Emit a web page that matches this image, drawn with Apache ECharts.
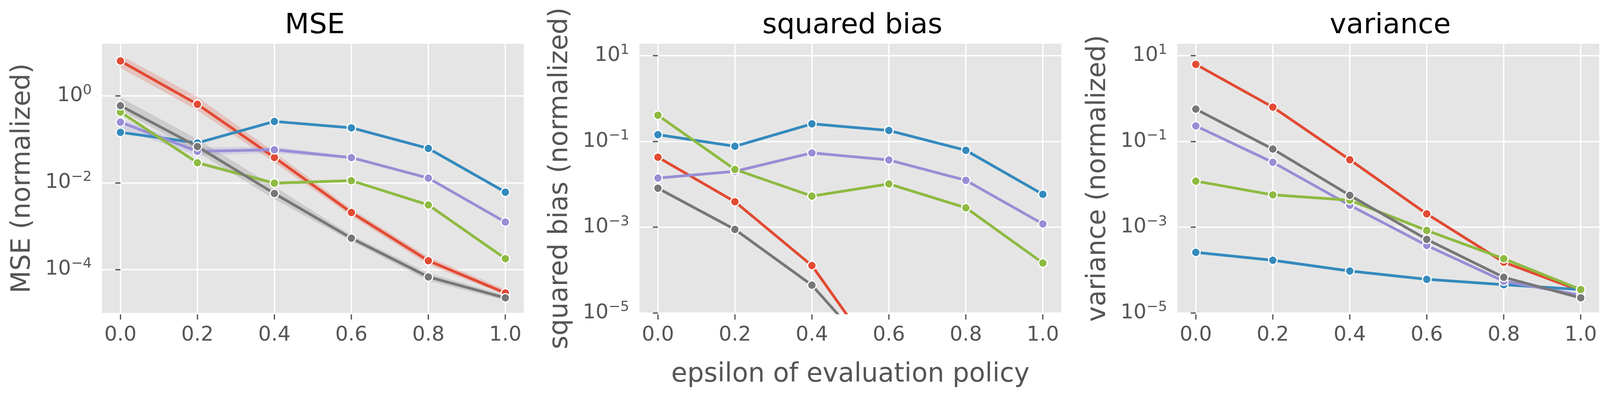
<!DOCTYPE html>
<html>
<head>
<meta charset="utf-8">
<script src="https://cdn.jsdelivr.net/npm/echarts@6/dist/echarts.min.js"></script>
<style>
  html, body { margin: 0; padding: 0; background: #fff; }
  #chart { width: 4125px; height: 1024px; }
</style>
</head>
<body>
<div id="chart"></div>
<script>
const EPSILON = [0, 0.2, 0.4, 0.6, 0.8, 1.0];
const X_TICKS = [0, 0.2, 0.4, 0.6, 0.8, 1.0];
const MSE_TICKS = [1e-4, 1e-2, 1];
const BV_TICKS = [1e-5, 1e-3, 1e-1, 10];
const PANEL_TITLES = ['MSE', 'squared bias', 'variance'];
const Y_NAMES = ['MSE (normalized)', 'squared bias (normalized)', 'variance (normalized)'];
const X_NAME = 'epsilon of evaluation policy';

// draw order: red, blue, purple, green, gray (gray on top)
const METHODS = ['red', 'blue', 'purple', 'green', 'gray'];
const COLORS = { red: '#E24A33', blue: '#348ABD', purple: '#988ED5', green: '#8EBA42', gray: '#777777' };

// MSE panel
const mseRed    = [6.41, 0.644, 0.0383, 0.00206, 1.59e-4, 2.88e-5];
const mseBlue   = [0.1455, 0.0828, 0.259, 0.1845, 0.0618, 0.00607];
const msePurple = [0.249, 0.0529, 0.0578, 0.038, 0.0128, 0.00124];
const mseGreen  = [0.426, 0.0289, 0.0098, 0.01117, 0.00308, 1.78e-4];
const mseGray   = [0.597, 0.0682, 0.00565, 5.27e-4, 6.74e-5, 2.22e-5];

// MSE confidence bands
const mseRedLo    = [4.44, 0.466, 0.0291, 0.00171, 1.29e-4, 2.57e-5];
const mseRedHi    = [8.65, 0.952, 0.0505, 0.00248, 1.96e-4, 3.46e-5];
const mseGrayLo   = [0.474, 0.0505, 0.00419, 4.48e-4, 5.48e-5, 1.93e-5];
const mseGrayHi   = [0.925, 0.1009, 0.00817, 6.19e-4, 8.29e-5, 2.55e-5];
const msePurpleLo = [0.176, 0.042, 0.0481, 0.0355, 0.0119, 0.00116];
const msePurpleHi = [0.299, 0.0651, 0.0679, 0.0407, 0.0137, 0.00133];
const mseGreenLo  = [0.389, 0.0264, 0.00894, 0.01042, 0.00287, 1.66e-4];
const mseGreenHi  = [0.467, 0.0317, 0.01074, 0.01197, 0.0033, 1.91e-4];

// squared bias panel (red / gray drop below the axis after 0.4)
const biasRed    = [0.0428, 0.00392, 1.27e-4, 3.8e-7, null, null];
const biasBlue   = [0.144, 0.077, 0.257, 0.18, 0.062, 0.00583];
const biasPurple = [0.01397, 0.0200, 0.054, 0.0369, 0.01236, 0.00119];
const biasGreen  = [0.408, 0.0222, 0.0053, 0.0102, 0.00283, 1.46e-4];
const biasGray   = [0.0081, 8.85e-4, 4.44e-5, 4.3e-7, null, null];

// variance panel
const varRed    = [6.28, 0.632, 0.0374, 0.00204, 1.52e-4, 3.28e-5];
const varBlue   = [2.58e-4, 1.69e-4, 9.5e-5, 6.07e-5, 4.56e-5, 3.5e-5];
const varPurple = [0.23, 0.0326, 0.00324, 3.74e-4, 5.5e-5, 2.57e-5];
const varGreen  = [0.01186, 0.00567, 0.00426, 8.37e-4, 1.84e-4, 3.51e-5];
const varGray   = [0.567, 0.0664, 0.00552, 5.19e-4, 6.77e-5, 2.24e-5];

const PANELS = [
  { red: mseRed, blue: mseBlue, purple: msePurple, green: mseGreen, gray: mseGray },
  { red: biasRed, blue: biasBlue, purple: biasPurple, green: biasGreen, gray: biasGray },
  { red: varRed, blue: varBlue, purple: varPurple, green: varGreen, gray: varGray }
];
const MSE_BANDS = [
  { color: COLORS.red, lo: mseRedLo, hi: mseRedHi },
  { color: COLORS.purple, lo: msePurpleLo, hi: msePurpleHi },
  { color: COLORS.green, lo: mseGreenLo, hi: mseGreenHi },
  { color: COLORS.gray, lo: mseGrayLo, hi: mseGrayHi }
];

const FONT = 'DejaVu Sans';
const GRID_LEFT = [261, 1637, 3014];
const GRID_TOP = 112;
const GRID_W = 1080;
const GRID_H = 689;

function powLabel(value) {
  const e = Math.round(Math.log10(value));
  const s = e < 0 ? '\u2212' + (-e) : String(e);
  return '{b|10}{s|' + s + '}';
}

function bandSeries(panel, band) {
  return {
    type: 'custom',
    xAxisIndex: panel,
    yAxisIndex: panel,
    silent: true,
    clip: true,
    z: 1,
    data: [[EPSILON[0], band.lo[0]]],
    renderItem(params, api) {
      const top = EPSILON.map((x, i) => api.coord([x, band.hi[i]]));
      const bottom = EPSILON.map((x, i) => api.coord([x, band.lo[i]])).reverse();
      return {
        type: 'polygon',
        shape: { points: top.concat(bottom) },
        style: { fill: band.color, opacity: 0.22 }
      };
    }
  };
}

const grid = [], xAxis = [], yAxis = [], title = [], series = [];

PANELS.forEach((panel, p) => {
  grid.push({
    left: GRID_LEFT[p], top: GRID_TOP, width: GRID_W, height: GRID_H,
    show: true, backgroundColor: '#E5E5E5', borderWidth: 0
  });
  title.push({
    text: PANEL_TITLES[p],
    left: GRID_LEFT[p] + GRID_W / 2,
    top: 25,
    textAlign: 'center',
    textStyle: { fontFamily: FONT, fontSize: 72, fontWeight: 'normal', color: '#000' }
  });
  xAxis.push({
    type: 'value', gridIndex: p, min: -0.048, max: 1.048, offset: 4,
    axisLine: { show: false },
    axisTick: { show: true, length: 13, customValues: X_TICKS, lineStyle: { color: '#555', width: 3.3 } },
    axisLabel: {
      customValues: X_TICKS, margin: 27, fontFamily: FONT, fontSize: 52, color: '#555',
      formatter: v => v.toFixed(1)
    },
    splitLine: { show: true, lineStyle: { color: '#fff', width: 3.3 } },
    name: p === 1 ? X_NAME : '',
    nameLocation: 'middle', nameGap: 121,
    nameTextStyle: { fontFamily: FONT, fontSize: 67, color: '#555' }
  });
  const ticks = p === 0 ? MSE_TICKS : BV_TICKS;
  yAxis.push({
    type: 'log', logBase: 10, gridIndex: p, min: 1e-5, max: p === 0 ? 16 : 19, offset: 4,
    axisLine: { show: false },
    axisTick: { show: true, length: 13, customValues: ticks, lineStyle: { color: '#555', width: 3.3 } },
    axisLabel: {
      customValues: ticks, margin: 22, formatter: powLabel,
      rich: {
        b: { fontFamily: FONT, fontSize: 52, color: '#555', lineHeight: 64 },
        s: { fontFamily: FONT, fontSize: 36, color: '#555', lineHeight: 36, verticalAlign: 'top' }
      }
    },
    minorTick: { show: false },
    minorSplitLine: { show: false },
    splitLine: { show: true, lineStyle: { color: '#fff', width: 3.3 } },
    name: Y_NAMES[p],
    nameLocation: 'middle', nameGap: 165,
    nameTextStyle: { fontFamily: FONT, fontSize: 67, color: '#555' }
  });

  if (p === 0) {
    MSE_BANDS.forEach(b => series.push(bandSeries(0, b)));
  }
  METHODS.forEach((m, k) => {
    series.push({
      type: 'line',
      name: m,
      xAxisIndex: p,
      yAxisIndex: p,
      z: 2 + k,
      data: EPSILON.map((x, i) => [x, panel[m][i]]),
      symbol: 'circle',
      symbolSize: 22,
      showAllSymbol: true,
      clip: true,
      lineStyle: { color: COLORS[m], width: 7 },
      itemStyle: { color: COLORS[m], borderColor: '#fff', borderWidth: 3 },
      emphasis: { disabled: true }
    });
  });
});

const chart = echarts.init(document.getElementById('chart'));
chart.setOption({
  animation: false,
  backgroundColor: '#fff',
  title, grid, xAxis, yAxis, series
});
</script>
</body>
</html>
